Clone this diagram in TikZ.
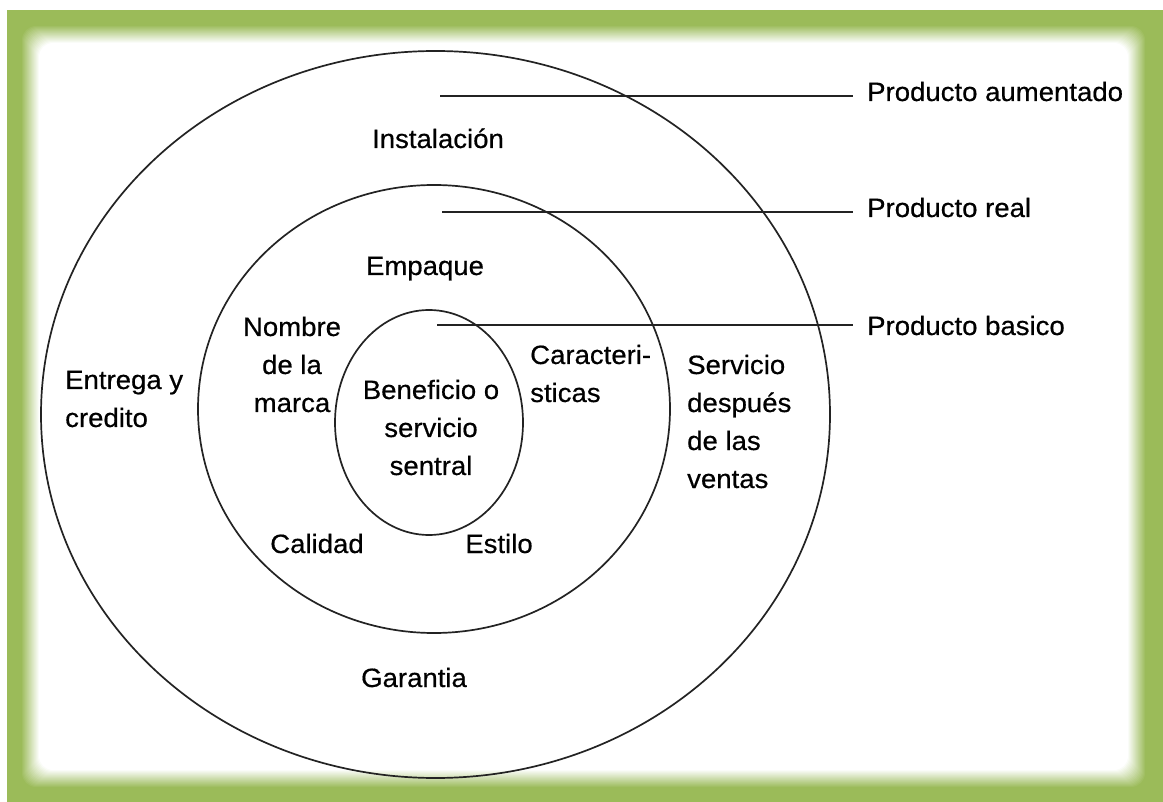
\documentclass[tikz,border=0pt]{standalone}
\usepackage{fontspec}
\setmainfont{Liberation Sans}[FakeStretch=1.04,FakeBold=0.5]
\definecolor{framegreen}{RGB}{155,187,89}
\definecolor{ink}{RGB}{35,35,35}
\begin{document}
\begin{tikzpicture}[x=1pt,y=-1pt,
  lbl/.style={inner sep=0pt, text=black, font=\fontsize{26.5}{38}\selectfont},
  plbl/.style={lbl, inner xsep=14pt, anchor=base west},
  ring/.style={draw=ink, line width=1.7pt},
  leader/.style={draw=ink, line width=1.8pt}]
\useasboundingbox (0,0) rectangle (1163,802);
% frame
\fill[white] (0,0) rectangle (1163,802);
\fill[framegreen] (7,10) rectangle (1163,802);
\foreach \i in {0,...,18}{
  \pgfmathtruncatemacro\p{100-\i*100/18}
  \fill[framegreen!\p!white, rounded corners=14pt] (21+\i,25+\i) rectangle (1146-\i,788-\i);
}
% rings
\draw[ring] (435.5,414.5) ellipse [x radius=394.5pt, y radius=363.5pt];
\draw[ring] (434,409) ellipse [x radius=236pt, y radius=224pt];
\draw[ring] (429,422.5) ellipse [x radius=94pt, y radius=112.5pt];
% labels inside (base anchor = baseline of last line)
\node[lbl, anchor=base] (inst) at (438,148) {Instalación};
\node[lbl, anchor=base] (emp) at (425,275) {Empaque};
\node[lbl, anchor=base, align=center] (nom) at (292,412) {Nombre\\de la\\marca};
\node[lbl, anchor=base west, align=left] (ent) at (65,427) {Entrega y\\credito};
\node[lbl, anchor=base, align=center] (ben) at (431,475) {Beneficio o\\servicio\\sentral};
\node[lbl, anchor=base west, align=left] (car) at (530,402) {Caracteri-\\sticas};
\node[lbl, anchor=base west, align=left] (ser) at (687,488) {Servicio\\después\\de las\\ventas};
\node[lbl, anchor=base] (cal) at (317,553) {Calidad};
\node[lbl, anchor=base] (est) at (499,553) {Estilo};
\node[lbl, anchor=base] (gar) at (414,687) {Garantia};
% right labels
\node[plbl] (paL) at (853,101) {Producto aumentado};
\node[plbl] (prL) at (853,217) {Producto real};
\node[plbl] (pbL) at (853,335) {Producto basico};
\coordinate (pa) at (440,96);
\coordinate (pr) at (442,212);
\coordinate (pb) at (437,325);
\draw[leader] (pa) -- (pa -| paL.west);
\draw[leader] (pr) -- (pr -| prL.west);
\draw[leader] (pb) -- (pb -| pbL.west);
\end{tikzpicture}
\end{document}
